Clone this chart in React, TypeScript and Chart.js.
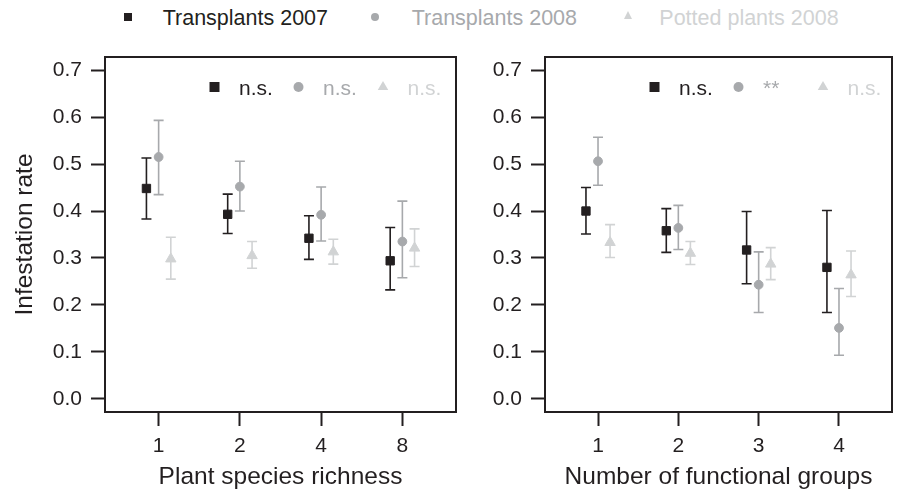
import React, { useEffect, useRef } from 'react';
import { Chart, registerables } from 'chart.js';

Chart.register(...registerables);

const FONT = '"Liberation Sans", Arial, Helvetica, sans-serif';
const COL_2007 = '#231f20';
const COL_2008 = '#a7a9ac';
const COL_POT = '#d1d3d4';
const INK = '#231f20';

// ---- data ----
const seriesNames = ['Transplants 2007', 'Transplants 2008', 'Potted plants 2008'];
const richnessLabels = ['1', '2', '4', '8'];
const groupLabels = ['1', '2', '3', '4'];
const categoryPositions = [1, 2, 3, 4];
const seriesOffsets = [-0.15, 0, 0.15];
const yTicks = [0.0, 0.1, 0.2, 0.3, 0.4, 0.5, 0.6, 0.7];

// Plant species richness panel
const rich2007 = [0.448, 0.393, 0.342, 0.294];
const rich2007Lo = [0.383, 0.352, 0.297, 0.232];
const rich2007Hi = [0.513, 0.436, 0.390, 0.365];
const rich2008 = [0.515, 0.452, 0.392, 0.335];
const rich2008Lo = [0.435, 0.400, 0.336, 0.258];
const rich2008Hi = [0.593, 0.506, 0.451, 0.421];
const richPot = [0.298, 0.305, 0.313, 0.321];
const richPotLo = [0.255, 0.278, 0.287, 0.282];
const richPotHi = [0.344, 0.335, 0.340, 0.362];
const richSignif = ['n.s.', 'n.s.', 'n.s.'];

// Number of functional groups panel
const func2007 = [0.400, 0.358, 0.317, 0.280];
const func2007Lo = [0.351, 0.312, 0.245, 0.184];
const func2007Hi = [0.450, 0.405, 0.399, 0.401];
const func2008 = [0.506, 0.364, 0.243, 0.151];
const func2008Lo = [0.455, 0.318, 0.184, 0.093];
const func2008Hi = [0.557, 0.412, 0.313, 0.235];
const funcPot = [0.333, 0.310, 0.287, 0.264];
const funcPotLo = [0.301, 0.286, 0.254, 0.218];
const funcPotHi = [0.371, 0.335, 0.322, 0.315];
const funcSignif = ['n.s.', '**', 'n.s.'];

const colors = [COL_2007, COL_2008, COL_POT];
const styles = ['rect', 'circle', 'triangle'];
const radii = [5.9, 4.4, 6.0];

function drawMarker(ctx: CanvasRenderingContext2D, style: string, x: number, y: number, size: number, color: string) {
  ctx.save();
  ctx.fillStyle = color;
  ctx.beginPath();
  if (style === 'rect') {
    ctx.rect(x - size / 2, y - size / 2, size, size);
  } else if (style === 'circle') {
    ctx.arc(x, y, size / 2, 0, Math.PI * 2);
  } else {
    const r = size / Math.sqrt(3);
    ctx.moveTo(x, y - r);
    ctx.lineTo(x + size / 2, y + r / 2);
    ctx.lineTo(x - size / 2, y + r / 2);
    ctx.closePath();
  }
  ctx.fill();
  ctx.restore();
}

const errorBarPlugin = {
  id: 'errorBars',
  beforeDatasetsDraw(chart: any) {
    const { ctx } = chart;
    const yScale = chart.scales.y;
    chart.data.datasets.forEach((ds: any, i: number) => {
      const meta = chart.getDatasetMeta(i);
      ctx.save();
      ctx.strokeStyle = ds.errColor;
      ctx.lineWidth = 1.6;
      meta.data.forEach((pt: any, j: number) => {
        const x = pt.x;
        const yl = yScale.getPixelForValue(ds.lo[j]);
        const yh = yScale.getPixelForValue(ds.hi[j]);
        ctx.beginPath();
        ctx.moveTo(x, yl);
        ctx.lineTo(x, yh);
        ctx.moveTo(x - 5, yl);
        ctx.lineTo(x + 5, yl);
        ctx.moveTo(x - 5, yh);
        ctx.lineTo(x + 5, yh);
        ctx.stroke();
      });
      ctx.restore();
    });
  },
};

const boxPlugin = {
  id: 'plotBox',
  afterDraw(chart: any) {
    const { ctx, chartArea } = chart;
    ctx.save();
    ctx.strokeStyle = INK;
    ctx.lineWidth = 2;
    ctx.strokeRect(chartArea.left, chartArea.top, chartArea.right - chartArea.left, chartArea.bottom - chartArea.top);
    ctx.restore();
  },
};

function makeInsetPlugin(signif: string[]) {
  return {
    id: 'insetLegend',
    afterDraw(chart: any) {
      const { ctx, chartArea } = chart;
      const offsets = [109.5, 193.5, 278];
      const y = chartArea.top + 30;
      ctx.save();
      ctx.font = `21px ${FONT}`;
      ctx.textAlign = 'left';
      ctx.textBaseline = 'alphabetic';
      offsets.forEach((o, i) => {
        const x = chartArea.left + o;
        drawMarker(ctx, styles[i], x, y, i === 2 ? 10.5 : 10, colors[i]);
        ctx.fillStyle = colors[i];
        ctx.fillText(signif[i], x + 24.5, y + 8.3);
      });
      ctx.restore();
    },
  };
}

function buildConfig(
  xLabels: string[],
  xTitle: string,
  showYTitle: boolean,
  values: number[][],
  los: number[][],
  his: number[][],
  signif: string[],
  rightPad: number
): any {
  const datasets = values.map((vals, s) => ({
    label: seriesNames[s],
    data: vals.map((v, k) => ({ x: categoryPositions[k] + seriesOffsets[s], y: v })),
    lo: los[s],
    hi: his[s],
    errColor: colors[s],
    pointStyle: styles[s],
    pointRadius: radii[s],
    pointBackgroundColor: colors[s],
    pointBorderColor: colors[s],
    pointBorderWidth: 1,
    showLine: false,
  }));
  const gridOpts = {
    display: true,
    drawOnChartArea: false,
    drawTicks: true,
    tickLength: 14,
    tickWidth: 2,
    tickColor: INK,
  };
  return {
    type: 'scatter',
    data: { datasets },
    options: {
      responsive: false,
      animation: false,
      events: [],
      layout: { padding: { top: 57, right: rightPad, left: 0, bottom: 0 } },
      plugins: {
        legend: { display: false },
        tooltip: { enabled: false },
      },
      scales: {
        x: {
          type: 'linear',
          min: 0.34,
          max: 4.66,
          afterBuildTicks: (axis: any) => {
            axis.ticks = categoryPositions.map((v) => ({ value: v }));
          },
          afterFit: (axis: any) => {
            axis.height = 83;
          },
          ticks: {
            callback: (_v: any, i: number) => xLabels[i],
            font: { size: 21, family: FONT },
            color: INK,
            padding: 8,
            maxRotation: 0,
            autoSkip: false,
          },
          grid: gridOpts,
          border: { display: false },
          title: {
            display: true,
            text: xTitle,
            color: INK,
            font: { size: 24.5, family: FONT },
            padding: { top: 0, bottom: 3 },
          },
        },
        y: {
          type: 'linear',
          min: -0.028,
          max: 0.728,
          afterBuildTicks: (axis: any) => {
            axis.ticks = yTicks.map((v) => ({ value: v }));
          },
          afterFit: (axis: any) => {
            axis.width = 105;
          },
          ticks: {
            callback: (v: any) => Number(v).toFixed(1),
            font: { size: 21, family: FONT },
            color: INK,
            padding: 9,
            autoSkip: false,
          },
          grid: gridOpts,
          border: { display: false },
          title: {
            display: showYTitle,
            text: 'Infestation rate',
            color: INK,
            font: { size: 24.5, family: FONT },
            padding: { top: 11, bottom: 0 },
          },
        },
      },
    },
    plugins: [errorBarPlugin, boxPlugin, makeInsetPlugin(signif)],
  };
}

export default function App() {
  const leftRef = useRef<HTMLCanvasElement>(null);
  const rightRef = useRef<HTMLCanvasElement>(null);

  useEffect(() => {
    Chart.defaults.font.family = FONT;
    const left = new Chart(
      leftRef.current as HTMLCanvasElement,
      buildConfig(
        richnessLabels,
        'Plant species richness',
        true,
        [rich2007, rich2008, richPot],
        [rich2007Lo, rich2008Lo, richPotLo],
        [rich2007Hi, rich2008Hi, richPotHi],
        richSignif,
        14
      )
    );
    const right = new Chart(
      rightRef.current as HTMLCanvasElement,
      buildConfig(
        groupLabels,
        'Number of functional groups',
        false,
        [func2007, func2008, funcPot],
        [func2007Lo, func2008Lo, funcPotLo],
        [func2007Hi, func2008Hi, funcPotHi],
        funcSignif,
        4
      )
    );
    return () => {
      left.destroy();
      right.destroy();
    };
  }, []);

  const legendText = (left: number, color: string, text: string) => (
    <span
      style={{
        position: 'absolute',
        left,
        top: 8,
        font: `21.5px ${FONT}`,
        lineHeight: '21.5px',
        color,
        whiteSpace: 'nowrap',
      }}
    >
      {text}
    </span>
  );

  return (
    <div
      style={{
        position: 'absolute',
        left: 0,
        top: 0,
        width: 899,
        height: 495,
        background: '#ffffff',
        overflow: 'hidden',
        fontFamily: FONT,
      }}
    >
      <div style={{ position: 'absolute', left: 123.5, top: 13, width: 8, height: 8, background: COL_2007 }} />
      {legendText(162.7, COL_2007, seriesNames[0])}
      <div
        style={{ position: 'absolute', left: 371, top: 12.5, width: 8, height: 8, borderRadius: '50%', background: COL_2008 }}
      />
      {legendText(411.7, COL_2008, seriesNames[1])}
      <div
        style={{
          position: 'absolute',
          left: 623.5,
          top: 11,
          width: 0,
          height: 0,
          borderLeft: '4.5px solid transparent',
          borderRight: '4.5px solid transparent',
          borderBottom: '8px solid ' + COL_POT,
        }}
      />
      {legendText(659.3, COL_POT, seriesNames[2])}
      <canvas
        ref={leftRef}
        width={470}
        height={495}
        style={{ position: 'absolute', left: 0, top: 0, width: 470, height: 495 }}
      />
      <canvas
        ref={rightRef}
        width={459}
        height={495}
        style={{ position: 'absolute', left: 440, top: 0, width: 459, height: 495 }}
      />
    </div>
  );
}
